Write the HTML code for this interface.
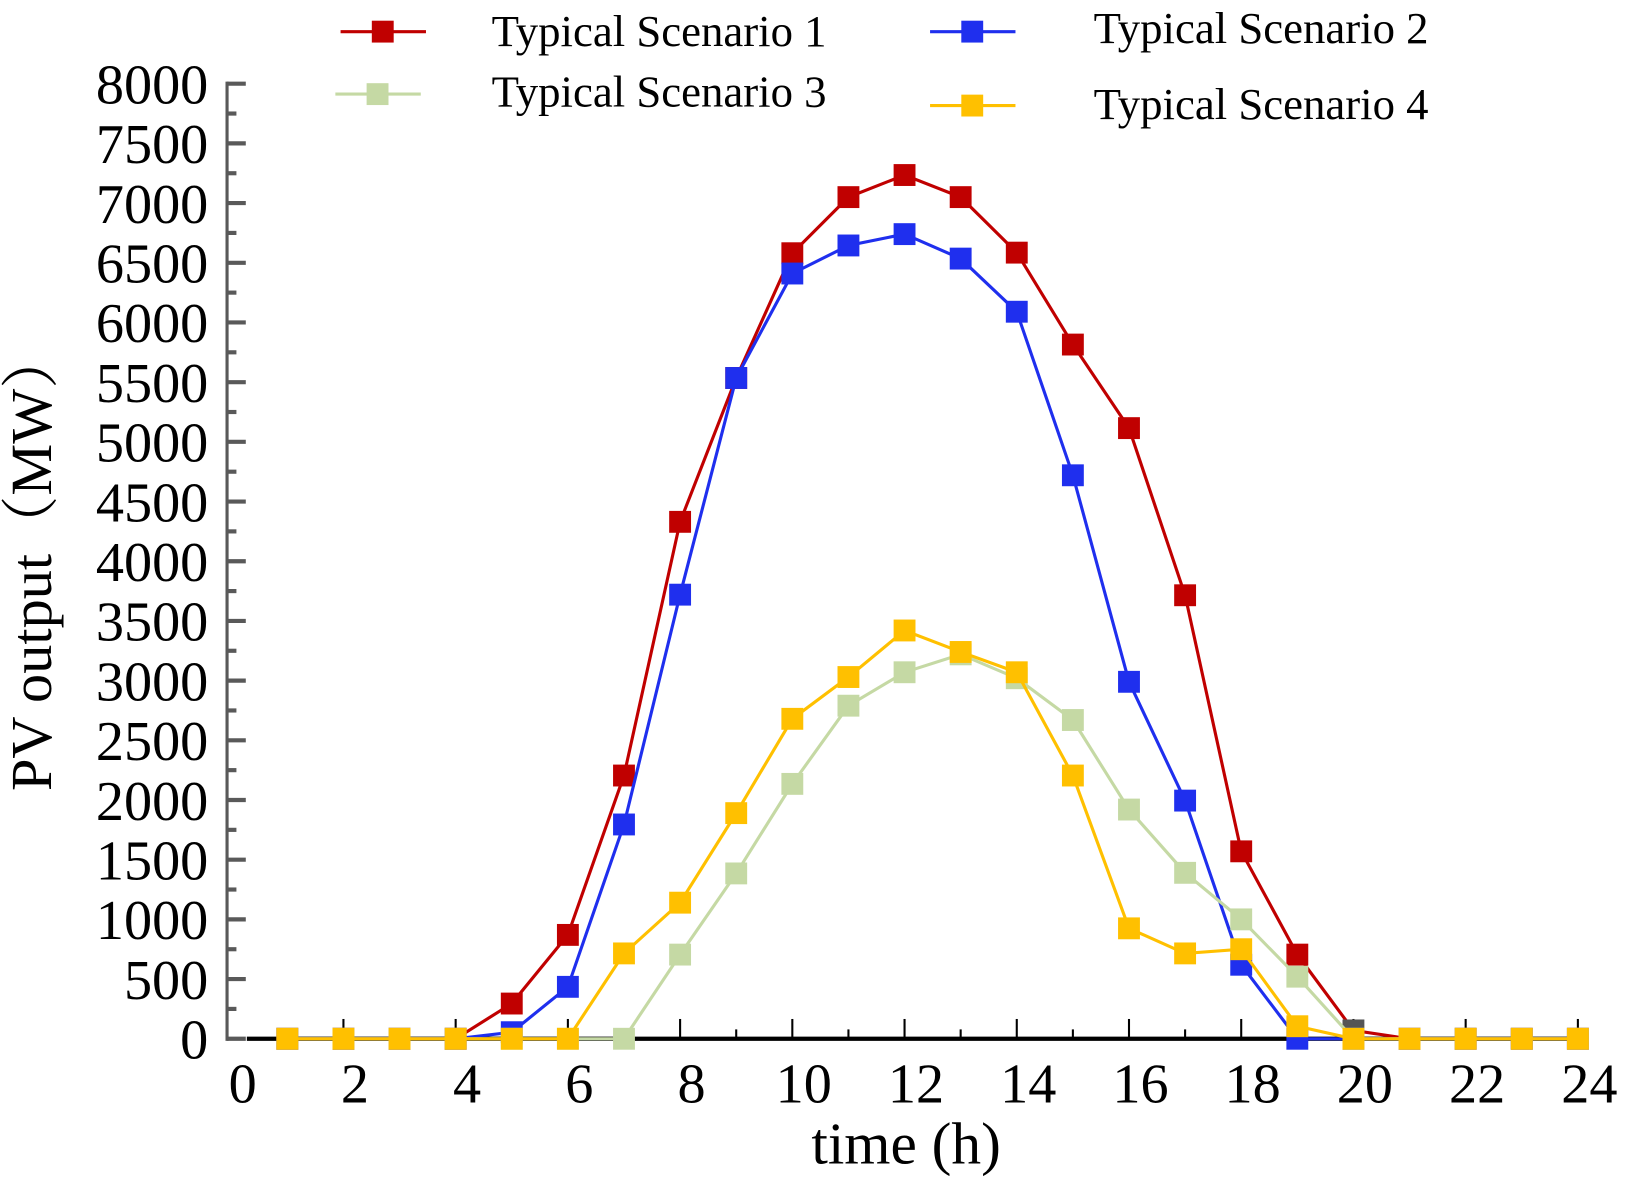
<!DOCTYPE html>
<html><head><meta charset="utf-8"><style>
html,body{margin:0;padding:0;background:#fff;}
svg{display:block;font-family:"Liberation Serif",serif;}
</style></head><body>
<svg id="chart" width="1631" height="1186" viewBox="0 0 1566 1138" xmlns="http://www.w3.org/2000/svg"></svg>
<script>
const hours = [1,2,3,4,5,6,7,8,9,10,11,12,13,14,15,16,17,18,19,20,21,22,23,24];
const s1 = [0,0,0,0,295,870,2205,4330,5535,6580,7050,7235,7050,6585,5815,5115,3715,1570,705,70,0,0,0,0];
const s2 = [0,0,0,0,55,435,1795,3720,5535,6410,6645,6740,6535,6090,4720,2990,1995,620,0,0,0,0,0,0];
const s3 = [0,0,0,0,0,0,0,705,1385,2135,2790,3070,3220,3020,2670,1920,1390,1000,520,0,0,0,0,0];
const s4 = [0,0,0,0,0,0,715,1140,1890,2680,3030,3420,3240,3070,2205,925,715,750,105,0,0,0,0,0];
const yTicks = [0,500,1000,1500,2000,2500,3000,3500,4000,4500,5000,5500,6000,6500,7000,7500,8000];
const xTicks = [0,2,4,6,8,10,12,14,16,18,20,22,24];

const svg = document.getElementById('chart');
const NS = 'http://www.w3.org/2000/svg';
const X = h => 222 + h * (1515 - 222) / 24;
const Y = v => 997 - v * (997 - 80) / 8000;
function mk(tag, attrs, parent) {
  const e = document.createElementNS(NS, tag);
  for (const k in attrs) e.setAttribute(k, attrs[k]);
  (parent || svg).appendChild(e);
  return e;
}

const yAxis = mk('g', {});


mk('line', {x1:218, y1:78, x2:218, y2:999, stroke:'#595959', 'stroke-width':3}, yAxis);
for (let v = 0; v <= 8000; v += 250) {
  const major = v % 500 === 0;
  mk('line', {x1:218, y1:Y(v), x2: major ? 236 : 227, y2:Y(v), stroke:'#595959', 'stroke-width':4}, yAxis);
}
yTicks.forEach(v => {
  const t = mk('text', {x:200, y:Y(v) + 19, 'text-anchor':'end', 'font-size':54, fill:'#000'}, yAxis);
  
  
  t.textContent = v;
});

const xAxis = mk('g', {});


mk('line', {x1:237, y1:997, x2:1515, y2:997, stroke:'#000', 'stroke-width':4}, xAxis);
for (let h = 1; h <= 24; h++) {
  mk('line', {x1:X(h), y1:997, x2:X(h), y2: h % 2 === 0 ? 978 : 988, stroke:'#000', 'stroke-width':2}, xAxis);
}
xTicks.forEach(h => {
  const t = mk('text', {x:X(h) + 11, y:1058, 'text-anchor':'middle', 'font-size':54, fill:'#000'}, xAxis);
  
  
  t.textContent = h;
});

const xt = mk('text', {x:870, y:1117, 'text-anchor':'middle', 'font-size':57, fill:'#000'});


xt.textContent = 'time (h)';
const yt = mk('text', {x:0, y:0, 'text-anchor':'middle', 'font-size':56, fill:'#000', transform:'translate(49,538) rotate(-90)', style:'font-family:"Liberation Serif","Noto Serif CJK SC",serif'});


yt.textContent = 'PV output（MW）';

const series = [
  {name:'scenario-1', data:s1, color:'#c00000'},
  {name:'scenario-2', data:s2, color:'#1f2fee'},
  {name:'scenario-3', data:s3, color:'#c5d9a4'},
  {name:'scenario-4', data:s4, color:'#ffc000'}
];
series.forEach(s => {
  const g = mk('g', {});
  
  
  const pts = hours.map((h, i) => X(h) + ',' + Y(s.data[i])).join(' ');
  const pl = mk('polyline', {points:pts, fill:'none', stroke:s.color, 'stroke-width':3}, g);
  
  
  hours.forEach((h, i) => {
    let c = s.color;
    if (s.name === 'scenario-1' && h === 20) c = '#555555';
    const r = mk('rect', {x:X(h) - 10.5, y:Y(s.data[i]) - 10.5, width:21, height:21, fill:c}, g);
    
    
  });
});

const legendItems = [
  {label:'Typical Scenario 1', color:'#c00000', lx:327, ly:30, tx:472, ty:44},
  {label:'Typical Scenario 2', color:'#1f2fee', lx:893, ly:30, tx:1050, ty:41},
  {label:'Typical Scenario 3', color:'#c5d9a4', lx:322, ly:90, tx:472, ty:102},
  {label:'Typical Scenario 4', color:'#ffc000', lx:893, ly:101, tx:1050, ty:114}
];
const leg = mk('g', {});


legendItems.forEach(it => {
  const g = mk('g', {}, leg);
  
  
  mk('line', {x1:it.lx, y1:it.ly, x2:it.lx + 82, y2:it.ly, stroke:it.color, 'stroke-width':3}, g);
  mk('rect', {x:it.lx + 30, y:it.ly - 10.5, width:21, height:21, fill:it.color}, g);
  const t = mk('text', {x:it.tx, y:it.ty, 'font-size':43, fill:'#000'}, g);
  t.textContent = it.label;
});
</script>
</body></html>
